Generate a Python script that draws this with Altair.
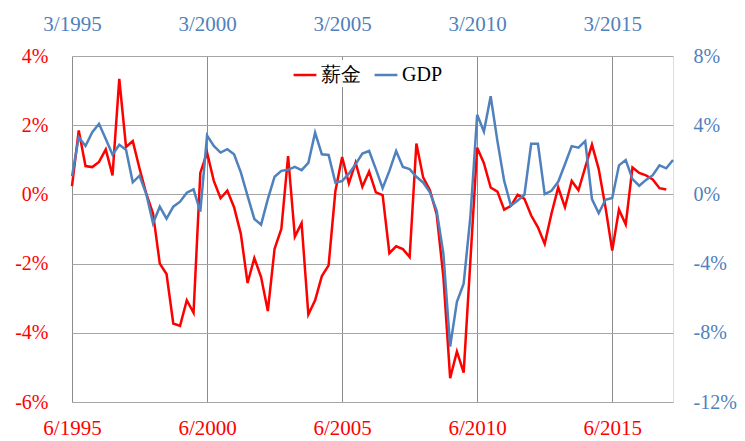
import altair as alt
import pandas as pd

# Quarterly growth, wage (薪金, left axis) from 6/1995; GDP (right axis) from 3/1995
wage = [0.24, 1.85, 0.82, 0.79, 0.94, 1.30, 0.55, 3.34, 1.37, 1.54,
        0.75, 0.02, -0.55, -2.0, -2.3, -3.73, -3.8, -3.06, -3.42, 0.62,
        1.21, 0.39, -0.11, 0.11, -0.37, -1.14, -2.56, -1.84, -2.39, -3.37,
        -1.57, -1.0, 1.11, -1.22, -0.83, -3.47, -3.06, -2.36, -2.05, 0.09,
        1.08, 0.32, 0.92, 0.22, 0.66, 0.06, -0.02, -1.70, -1.50, -1.58,
        -1.81, 1.47, 0.49, 0.12, -0.57, -2.39, -5.31, -4.54, -5.15, -1.9,
        1.35, 0.9, 0.20, 0.08, -0.44, -0.33, -0.01, -0.13, -0.61, -0.95,
        -1.43, -0.56, 0.20, -0.37, 0.39, 0.12, 0.78, 1.44, 0.73, -0.37,
        -1.62, -0.44, -0.87, 0.78, 0.62, 0.55, 0.43, 0.18, 0.14]
gdp = [1.05, 3.3, 2.8, 3.6, 4.08, 3.2, 2.3, 2.87, 2.58, 0.7,
       1.08, 0.02, -1.67, -0.71, -1.4, -0.71, -0.42, 0.1, 0.29, -1.0,
       3.4, 2.8, 2.42, 2.61, 2.32, 1.27, -0.08, -1.42, -1.75, -0.27,
       1.02, 1.36, 1.42, 1.59, 1.40, 1.82, 3.57, 2.32, 2.28, 0.69,
       0.77, 1.2, 1.75, 2.36, 2.51, 1.46, 0.36, 1.36, 2.51, 1.59,
       1.46, 1.02, 0.69, 0.12, -0.94, -3.43, -8.8, -6.21, -5.16, -1.27,
       4.6, 3.63, 5.67, 3.08, 0.78, -0.65, -0.36, -0.02, 2.93, 2.93,
       0.02, 0.21, 0.73, 1.74, 2.79, 2.70, 3.08, -0.27, -1.09, -0.31,
       -0.21, 1.68, 1.99, 0.88, 0.5, 0.84, 1.11, 1.68, 1.51, 1.99]

series = ["薪金", "GDP"]
colors = ["#ff0000", "#4f81bd"]
tick_pos = [0, 20, 40, 60, 80]
bottom_labels = ["6/1995", "6/2000", "6/2005", "6/2010", "6/2015"]
top_labels = ["3/1995", "3/2000", "3/2005", "3/2010", "3/2015"]
left_ticks = [-6, -4, -2, 0, 2, 4]
right_ticks = [-12, -8, -4, 0, 4, 8]

df_w = pd.DataFrame({"q": list(range(len(wage))), "v": wage, "s": series[0]})
df_g = pd.DataFrame({"q": list(range(len(gdp))), "v": gdp, "s": series[1]})

FONT = "Liberation Serif"
FS = 20
XFS = 21
xdom = [0, len(gdp) - 1]

def lbl_expr(labels):
    arr = "[" + ",".join("'" + s + "'" for s in labels) + "]"
    return arr + "[round(datum.value/20)]"

color = alt.Color("s:N", scale=alt.Scale(domain=series, range=colors),
                  legend=alt.Legend(title=None, orient="none", legendX=218, legendY=4,
                                    direction="horizontal", symbolType="stroke",
                                    symbolStrokeWidth=2.5, symbolSize=520,
                                    labelFont=FONT, labelFontSize=FS, labelColor="#000000",
                                    columnPadding=8, labelOffset=3, fillColor="white",
                                    padding=2))

wage_line = alt.Chart(df_w).mark_line(strokeWidth=2.5).encode(
    x=alt.X("q:Q", scale=alt.Scale(domain=xdom, nice=False, zero=False),
            axis=alt.Axis(orient="bottom", values=tick_pos, labelExpr=lbl_expr(bottom_labels),
                          labelColor="#ff0000", labelFont=FONT, labelFontSize=XFS,
                          labelFlush=False, labelPadding=15, ticks=False, domain=False,
                          grid=True, gridColor="#8c8c8c", gridWidth=1, title=None)),
    y=alt.Y("v:Q", scale=alt.Scale(domain=[-6, 4], nice=False),
            axis=alt.Axis(orient="left", values=left_ticks, labelExpr="datum.value + '%'",
                          labelColor="#ff0000", labelFont=FONT, labelFontSize=FS,
                          labelPadding=24, ticks=False, domain=False, grid=True,
                          gridColor="#a6a6a6", gridWidth=1, title=None)),
    color=color,
)

gdp_line = alt.Chart(df_g).mark_line(strokeWidth=2.5).encode(
    x=alt.X("q:Q", scale=alt.Scale(domain=xdom, nice=False, zero=False),
            axis=alt.Axis(orient="top", values=tick_pos, labelExpr=lbl_expr(top_labels),
                          labelColor="#4f81bd", labelFont=FONT, labelFontSize=XFS,
                          labelFlush=False, labelPadding=22, ticks=False, domain=False,
                          grid=False, title=None)),
    y=alt.Y("v:Q", scale=alt.Scale(domain=[-12, 8], nice=False),
            axis=alt.Axis(orient="right", values=right_ticks, labelExpr="datum.value + '%'",
                          labelColor="#4f81bd", labelFont=FONT, labelFontSize=FS,
                          labelPadding=20, ticks=False, domain=False, grid=False, title=None)),
    color=color,
)

chart = alt.layer(wage_line, gdp_line).resolve_scale(
    x="independent", y="independent", color="shared"
).properties(
    width=601, height=346,
    autosize=alt.AutoSizeParams(type="none"),
    padding={"left": 64, "top": 48, "right": 64, "bottom": 40},
).configure_view(stroke="#8c8c8c", strokeWidth=1).configure(background="white")

chart.save("out.html", embed_options={"renderer": "svg", "actions": False})
